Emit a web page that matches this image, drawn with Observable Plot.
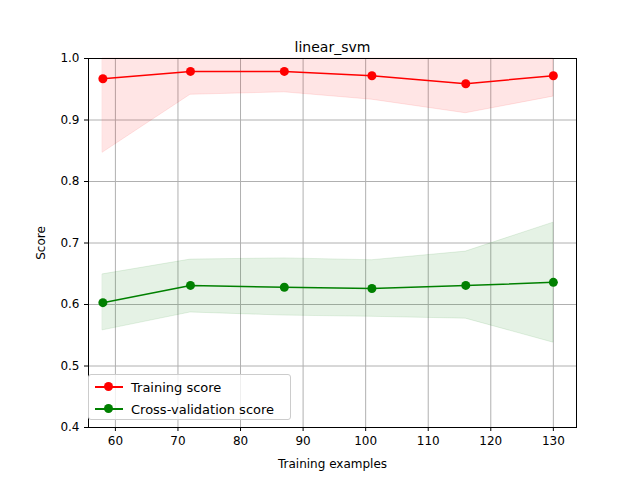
<!DOCTYPE html>
<html><head><meta charset="utf-8">
<script src="https://cdn.jsdelivr.net/npm/d3@7"></script>
<script src="https://cdn.jsdelivr.net/npm/@observablehq/plot@0.6"></script>
<style>
body{margin:0;background:#fff;font-family:"DejaVu Sans",sans-serif}
#wrap{position:relative;width:640px;height:480px}
#legend{position:absolute;left:88px;top:374px;width:201px;height:44px;border:1px solid #ccc;border-radius:3px;background:rgba(255,255,255,0.8);font-size:13px}
.row{display:flex;align-items:center;height:22px;padding-left:6px}
.sw{position:relative;width:28px;height:2px;margin-right:8px}
.sw i{position:absolute;left:9px;top:-4px;width:9px;height:9px;border-radius:50%}
</style></head><body>
<div id="wrap"><div id="chart"></div>
<div id="legend">
<div class="row" style="margin-top:1px"><span class="sw" style="background:red"><i style="background:red"></i></span>Training score</div>
<div class="row"><span class="sw" style="background:green"><i style="background:green"></i></span>Cross-validation score</div>
</div></div>
<script>
const sizes = [58, 72, 87, 101, 116, 130]
const trainMean = [0.967, 0.979, 0.979, 0.972, 0.959, 0.972]
const trainLow = [0.847, 0.941, 0.945, 0.933, 0.911, 0.938]
const trainHigh = [1.087, 1.017, 1.013, 1.011, 1.007, 1.006]
const cvMean = [0.603, 0.631, 0.628, 0.626, 0.631, 0.636]
const cvLow = [0.558, 0.587, 0.582, 0.580, 0.577, 0.538]
const cvHigh = [0.649, 0.673, 0.675, 0.672, 0.686, 0.733]

const rows = sizes.map((x, i) => ({
  x, tm: trainMean[i], tl: trainLow[i], th: Math.min(trainHigh[i], 1),
  cm: cvMean[i], cl: cvLow[i], ch: cvHigh[i]
}))

const chart = Plot.plot({
  width: 640, height: 480,
  marginTop: 58, marginLeft: 88, marginRight: 64, marginBottom: 53,
  style: {fontFamily: "DejaVu Sans", fontSize: "12px", color: "#000"},
  x: {domain: [55.7, 133.7], ticks: d3.range(60, 131, 10), label: "Training examples", labelArrow: "none", labelAnchor: "center", labelOffset: 40, tickSize: 4},
  y: {domain: [0.4, 1.0], ticks: d3.range(0.4, 1.01, 0.1), tickFormat: d3.format(".1f"), label: "Score", labelArrow: "none", labelAnchor: "center", labelOffset: 52, tickSize: 4},
  marks: [
    Plot.gridX(d3.range(60, 131, 10), {stroke: "#b0b0b0", strokeOpacity: 1}),
    Plot.gridY(d3.range(0.4, 1.01, 0.1), {stroke: "#b0b0b0", strokeOpacity: 1}),
    Plot.areaY(rows, {x: "x", y1: "tl", y2: "th", fill: "red", fillOpacity: 0.1, stroke: "red", strokeOpacity: 0.1}),
    Plot.areaY(rows, {x: "x", y1: "cl", y2: "ch", fill: "green", fillOpacity: 0.1, stroke: "green", strokeOpacity: 0.1}),
    Plot.line(rows, {x: "x", y: "tm", stroke: "red", strokeWidth: 1.5}),
    Plot.dot(rows, {x: "x", y: "tm", fill: "red", r: 4.5}),
    Plot.line(rows, {x: "x", y: "cm", stroke: "green", strokeWidth: 1.5}),
    Plot.dot(rows, {x: "x", y: "cm", fill: "green", r: 4.5}),
    Plot.frame({stroke: "#000"}),
    Plot.text(["linear_svm"], {frameAnchor: "top", dy: -16, fontSize: 14})
  ]
})
d3.select('#chart').append(() => chart)
</script></body></html>
